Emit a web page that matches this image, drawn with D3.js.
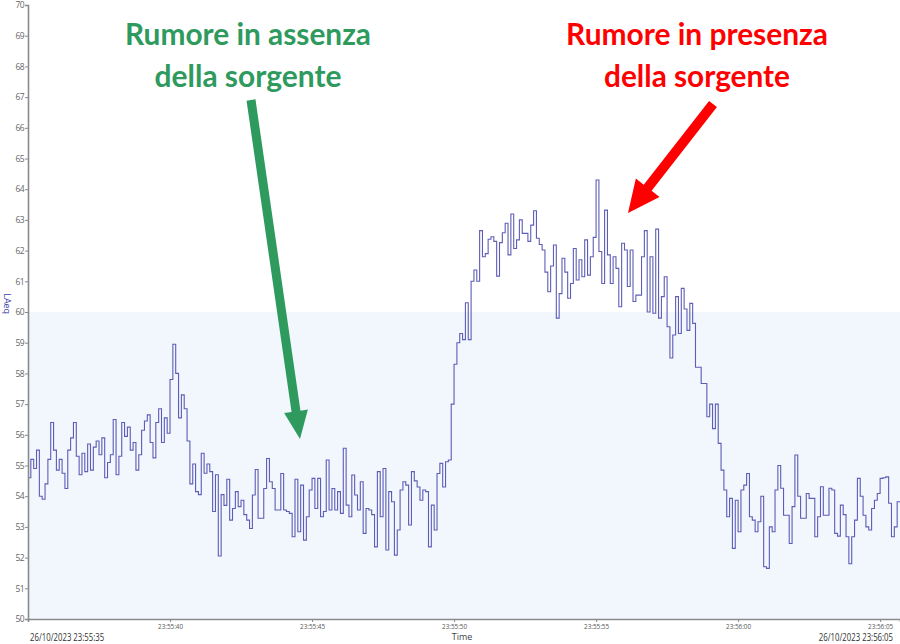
<!DOCTYPE html>
<html>
<head>
<meta charset="utf-8">
<script src="https://cdn.jsdelivr.net/npm/d3@7/dist/d3.min.js"></script>
<style>
  html, body { margin: 0; padding: 0; background: #fff; }
  svg { display: block; }
</style>
</head>
<body>
<svg id="chart" width="900" height="644"></svg>
<script>
// ---------------- DATA ----------------
const startTime = new Date(2023, 9, 26, 23, 55, 35);
const stepMs = 100;           // logging interval
const spanMs = 30700;         // visible time span
const yDomain = [50, 70];
const thresholdValue = 60;
const xTickSeconds = [5, 10, 15, 20, 25, 30];
const yTickValues = d3.range(50, 71, 1);
const startLabel = "26/10/2023 23:55:35";
const endLabel = "26/10/2023 23:56:05";
const xAxisTitle = "Time";
const yAxisTitle = "LAeq";
const titleLeft = ["Rumore in assenza", "della sorgente"];
const titleRight = ["Rumore in presenza", "della sorgente"];

// LAeq samples (dB), one every 100 ms
const noiseBefore = [
  54.6, 55.2, 54.9, 55.5, 54.0, 53.9, 54.4, 55.2, 56.4, 55.5,
  54.85, 55.2, 54.75, 54.25, 55.5, 55.9, 56.4, 55.3, 54.7, 55.4,
  54.8, 55.7, 54.85, 55.6, 55.8, 55.35, 55.9, 54.6, 55.1, 55.35,
  56.5, 54.7, 55.3, 56.4, 55.95, 56.25, 55.5, 55.75, 54.85, 55.35,
  56.15, 56.45, 56.65, 55.75, 55.25, 56.4, 56.85, 55.75, 56.55, 56.05,
  57.8, 58.95, 58.0, 56.55, 57.3, 56.85, 55.8, 54.4, 55.05, 54.15,
  54.05, 55.4, 54.75, 55.05, 54.8, 53.5, 54.7, 52.05, 54.05, 53.7
];
const noiseBackground = [
  54.55, 53.22, 53.6, 54.15, 53.66, 53.87, 53.4, 53.22, 52.95, 54.04,
  54.87, 53.28, 53.28, 54.25, 55.23, 54.47, 54.25, 53.55, 53.55, 54.74,
  53.55, 53.5, 53.44, 52.68, 54.55, 52.84, 54.36, 52.57, 53.33, 54.2,
  54.58, 53.6, 54.58, 53.33, 53.5, 55.18, 53.55, 54.25, 53.55, 54.15,
  53.44, 55.56, 53.71, 53.33, 54.69, 54.04, 53.55, 54.47, 52.79, 53.6,
  53.55, 53.4, 52.35, 54.8, 53.33, 54.9, 52.25, 54.15, 53.82, 52.08,
  52.9, 54.2, 54.47, 54.36, 53.06, 54.8, 54.5, 54.3, 53.87, 54.2,
  54.15, 52.35, 53.71, 52.9, 54.74, 55.07, 54.3, 55.12, 55.18
];
const noiseSource = [
  57.0, 58.3, 59.0, 59.3, 59.1, 60.3, 59.1, 61.0, 61.37, 61.0,
  62.65, 61.8, 61.9, 62.37, 62.45, 62.3, 61.17, 62.26, 62.58, 62.89,
  61.86, 63.19, 62.07, 62.35, 63.0, 62.56, 62.56, 62.3, 62.83, 63.3,
  62.4, 62.2, 62.02, 61.3, 60.66, 61.5, 62.18, 59.8, 60.6, 61.75,
  61.3, 60.45, 60.93, 62.07, 61.04, 61.7, 61.15, 62.35, 61.2, 61.8,
  62.43, 64.3, 61.97, 60.93, 63.32, 61.86, 60.93, 61.8, 61.42, 60.17,
  62.24, 62.02, 60.83, 62.02, 60.34, 60.55, 60.55, 61.8, 62.65, 60.0,
  61.8, 59.96, 62.7, 59.8, 60.5, 61.15, 59.52, 58.5, 59.25, 60.5
];
const noiseAfter = [
  59.3, 60.77, 60.1, 59.4, 60.28, 59.63, 58.2, 58.2, 57.67, 57.67,
  56.59, 57.0, 56.2, 57.0, 55.72, 54.85, 54.2, 53.33, 53.93, 52.3,
  53.87, 52.84, 54.2, 54.36, 54.74, 53.33, 53.22, 52.84, 53.17, 54.0,
  51.7, 51.65, 53.0, 52.84, 54.2, 55.0, 54.26, 53.38, 53.38, 52.46,
  53.66, 55.34, 54.0, 53.28, 53.28, 54.09, 53.93, 53.93, 52.68, 53.33,
  54.31, 53.38, 53.38, 54.26, 54.2, 52.79, 52.7, 53.71, 53.4, 52.68,
  51.8, 52.68, 53.22, 54.58, 54.0, 53.38, 53.0, 52.9, 53.6, 53.87,
  54.09, 54.58, 54.6, 54.63, 53.77, 52.68, 53.0, 53.82, 53.8
];

const laeq = noiseBefore.concat(noiseBackground, noiseSource, noiseAfter);
const series = laeq.map((v, i) => ({ t: new Date(startTime.getTime() + i * stepMs), v }));
series.push({ t: new Date(startTime.getTime() + spanMs), v: laeq[laeq.length - 1] });

// ---------------- LAYOUT ----------------
const svg = d3.select("#chart");
const plot = { left: 28, right: 900, top: 5, bottom: 619 };

const x = d3.scaleTime()
  .domain([startTime, new Date(startTime.getTime() + spanMs)])
  .range([plot.left, plot.right]);
const y = d3.scaleLinear().domain(yDomain).range([plot.bottom, plot.top]);

// light band below threshold
svg.append("rect")
  .attr("x", plot.left).attr("y", y(thresholdValue))
  .attr("width", plot.right - plot.left)
  .attr("height", y(yDomain[0]) - y(thresholdValue))
  .attr("fill", "#f2f7fd");

// line
const line = d3.line()
  .x(d => x(d.t)).y(d => y(d.v))
  .curve(d3.curveStepAfter);
svg.append("path")
  .datum(series)
  .attr("d", line)
  .attr("fill", "none")
  .attr("stroke", "#4b4bae")
  .attr("stroke-width", 1.1)
  .attr("stroke-opacity", 0.9);

// Y axis
const yAxis = d3.axisLeft(y).tickValues(yTickValues).tickSize(3).tickPadding(1).tickFormat(d3.format("d"));
const gy = svg.append("g").attr("transform", `translate(${plot.left},0)`).call(yAxis);
gy.select(".domain").attr("stroke", "#8a8a8a").attr("stroke-width", 1.6);
gy.selectAll(".tick line").attr("stroke", "#8a8a8a");
gy.selectAll(".tick text")
  .attr("fill", "#666").attr("font-family", "Open Sans, sans-serif")
  .attr("font-size", 8.5).attr("letter-spacing", -0.6);

// X axis
const xTicks = xTickSeconds.map(s => new Date(startTime.getTime() + s * 1000));
const xAxis = d3.axisBottom(x).tickValues(xTicks).tickSize(3).tickPadding(2).tickFormat(d3.timeFormat("%H:%M:%S"));
const gx = svg.append("g").attr("transform", `translate(0,${plot.bottom})`).call(xAxis);
gx.select(".domain").attr("stroke", "#8a8a8a").attr("stroke-width", 1.6);
gx.selectAll(".tick line").attr("stroke", "#8a8a8a");
gx.selectAll(".tick text")
  .attr("fill", "#555").attr("font-family", "Open Sans, sans-serif")
  .attr("font-size", 7.5)
  .attr("textLength", 25).attr("lengthAdjust", "spacingAndGlyphs");

// axis titles and range labels (horizontally condensed)
svg.append("text").text(startLabel)
  .attr("transform", "translate(30,640.5) scale(0.78,1)")
  .attr("font-family", "Open Sans, sans-serif").attr("font-size", 10).attr("fill", "#333");
svg.append("text").text(endLabel)
  .attr("transform", "translate(893,640.5) scale(0.78,1)")
  .attr("text-anchor", "end")
  .attr("font-family", "Open Sans, sans-serif").attr("font-size", 10).attr("fill", "#333");
svg.append("text").text(xAxisTitle)
  .attr("x", 462).attr("y", 640).attr("text-anchor", "middle")
  .attr("font-family", "Open Sans, sans-serif").attr("font-size", 9).attr("fill", "#444");
svg.append("text").text(yAxisTitle)
  .attr("transform", `translate(4,${(y(60) + y(61)) / 2 + 7}) rotate(90)`)
  .attr("text-anchor", "middle")
  .attr("font-family", "Open Sans, sans-serif").attr("font-size", 9).attr("fill", "#4040a8");

// ---------------- ANNOTATIONS ----------------
const green = "#2e9a5e", red = "#fe0000";
function title(lines, cx, color, widths) {
  lines.forEach((t, k) => {
    svg.append("text").text(t)
      .attr("x", cx - widths[k] / 2).attr("y", k === 0 ? 45 : 87)
      .attr("font-family", "Lato, Open Sans, sans-serif").attr("font-weight", "bold")
      .attr("font-size", 31).attr("fill", color)
      .attr("textLength", widths[k]).attr("lengthAdjust", "spacingAndGlyphs");
  });
}
title(titleLeft, 248, green, [246, 187]);
title(titleRight, 697, red, [262, 186]);

function arrow(x0, y0, x1, y1, shaftW, headL, headW, color) {
  const dx = x1 - x0, dy = y1 - y0, L = Math.hypot(dx, dy);
  const ux = dx / L, uy = dy / L, px = -uy, py = ux;
  const bx = x1 - ux * headL, by = y1 - uy * headL;
  const pts = [
    [x0 + px * shaftW / 2, y0 + py * shaftW / 2],
    [bx + px * shaftW / 2, by + py * shaftW / 2],
    [bx + px * headW / 2, by + py * headW / 2],
    [x1, y1],
    [bx - px * headW / 2, by - py * headW / 2],
    [bx - px * shaftW / 2, by - py * shaftW / 2],
    [x0 - px * shaftW / 2, y0 - py * shaftW / 2]
  ];
  svg.append("polygon").attr("points", pts.map(p => p.join(",")).join(" ")).attr("fill", color);
}
arrow(251, 100, 300, 439, 9, 28, 24, green);
arrow(713, 104, 628, 213, 10, 32, 30, red);
</script>
</body>
</html>
